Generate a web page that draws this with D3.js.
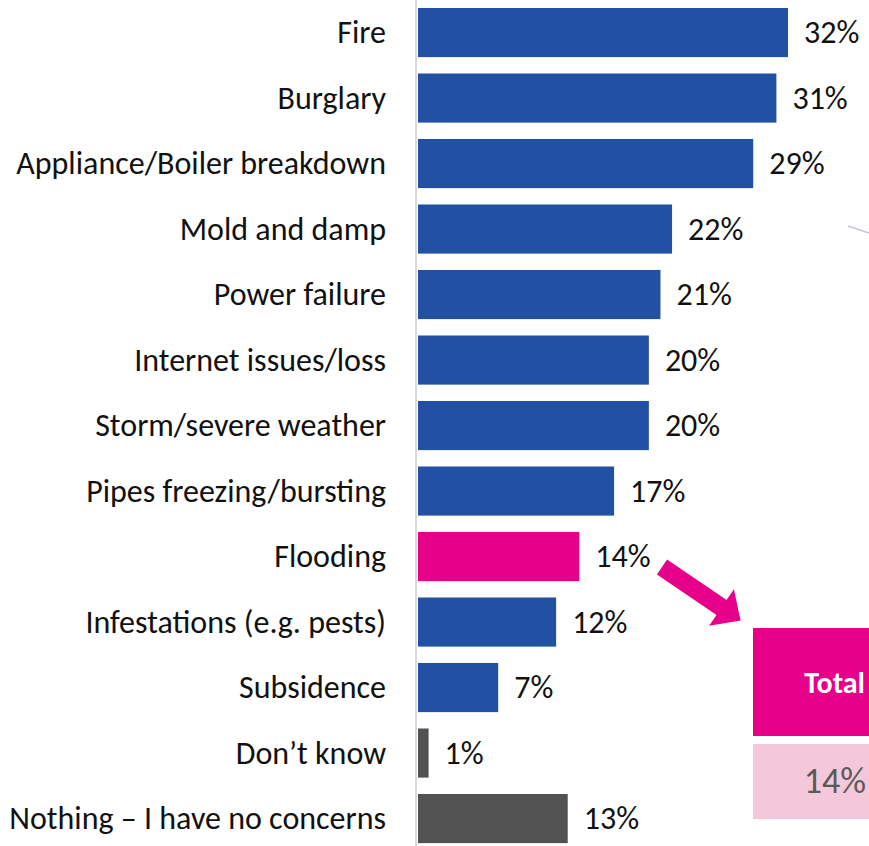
<!DOCTYPE html>
<html>
<head>
<meta charset="utf-8">
<script src="https://cdn.jsdelivr.net/npm/d3@7"></script>
<style>
  html, body { margin: 0; padding: 0; background: #fff; }
  svg { display: block; }
  text { font-family: Carlito, Calibri, Lato, "Open Sans", sans-serif; }
</style>
</head>
<body>
<svg id="chart" width="869" height="846"></svg>
<script>
// Home concerns, share of respondents (%)
const categories = [
  "Fire", "Burglary", "Appliance/Boiler breakdown", "Mold and damp",
  "Power failure", "Internet issues/loss", "Storm/severe weather",
  "Pipes freezing/bursting", "Flooding", "Infestations (e.g. pests)",
  "Subsidence", "Don\u2019t know", "Nothing \u2013 I have no concerns"
];
const values = [32, 31, 29, 22, 21, 20, 20, 17, 14, 12, 7, 1, 13];
const groups = ["risk", "risk", "risk", "risk", "risk", "risk", "risk", "risk",
                "highlight", "risk", "risk", "other", "other"];
const totalLabel = "Total";
const totalValue = 14;

const colors = { risk: "#2251A4", highlight: "#E6008A", other: "#525252" };

const svg = d3.select("#chart");

const x = d3.scaleLinear().domain([0, 32]).range([417, 788]);
const y = d3.scaleBand()
  .domain(categories)
  .range([-0.2, 851.3])
  .paddingInner(0.25)
  .paddingOuter(0.125);

// vertical baseline
svg.append("line")
  .attr("x1", 416).attr("x2", 416)
  .attr("y1", 0).attr("y2", 846)
  .attr("stroke", "#d9d9d9").attr("stroke-width", 2);

const rows = categories.map((c, i) => ({ c, v: values[i], g: groups[i] }));

svg.selectAll("rect.bar").data(rows).join("rect")
  .attr("class", "bar")
  .attr("x", x(0) + 1)
  .attr("y", d => y(d.c))
  .attr("width", d => x(d.v) - x(0) - 1)
  .attr("height", y.bandwidth())
  .attr("fill", d => colors[d.g]);

// category labels
svg.selectAll("text.cat").data(rows).join("text")
  .attr("class", "cat")
  .attr("x", 386)
  .attr("y", d => y(d.c) + y.bandwidth() / 2 + 10.5)
  .attr("text-anchor", "end")
  .attr("font-size", 32)
  .attr("fill", "#111")
  .text(d => d.c);

// value labels
svg.selectAll("text.val").data(rows).join("text")
  .attr("class", "val")
  .attr("x", d => x(d.v) + 16)
  .attr("y", d => y(d.c) + y.bandwidth() / 2 + 10.5)
  .attr("font-size", 32)
  .attr("fill", "#111")
  .text(d => d.v + "%");

// arrow from the Flooding bar towards the total box
const ax0 = 662, ay0 = 567, ang = Math.atan2(53, 78);
const L = 95, head = 23, hw = 9, hh = 22;
const arrowPts = [[0, -hw], [L - head, -hw], [L - head, -hh], [L, 0],
                  [L - head, hh], [L - head, hw], [0, hw]];
svg.append("polygon")
  .attr("points", arrowPts.map(p => p.join(",")).join(" "))
  .attr("transform", `translate(${ax0},${ay0}) rotate(${ang * 180 / Math.PI})`)
  .attr("fill", "#E6008A");

// total box
svg.append("rect")
  .attr("x", 753).attr("y", 628).attr("width", 116).attr("height", 108)
  .attr("fill", "#E6008A");
svg.append("text")
  .attr("x", 865).attr("y", 693)
  .attr("text-anchor", "end")
  .attr("font-size", 30).attr("font-weight", "bold")
  .attr("fill", "#fff")
  .text(totalLabel);
svg.append("rect")
  .attr("x", 753).attr("y", 744).attr("width", 116).attr("height", 75)
  .attr("fill", "#F4C7DA");
svg.append("text")
  .attr("x", 866).attr("y", 793)
  .attr("text-anchor", "end")
  .attr("font-size", 36)
  .attr("fill", "#595959")
  .text(totalValue + "%");

// faint stray stroke at the right edge
svg.append("line")
  .attr("x1", 848).attr("y1", 226).attr("x2", 869).attr("y2", 233)
  .attr("stroke", "#c9c2e2").attr("stroke-width", 1.5);
</script>
</body>
</html>
